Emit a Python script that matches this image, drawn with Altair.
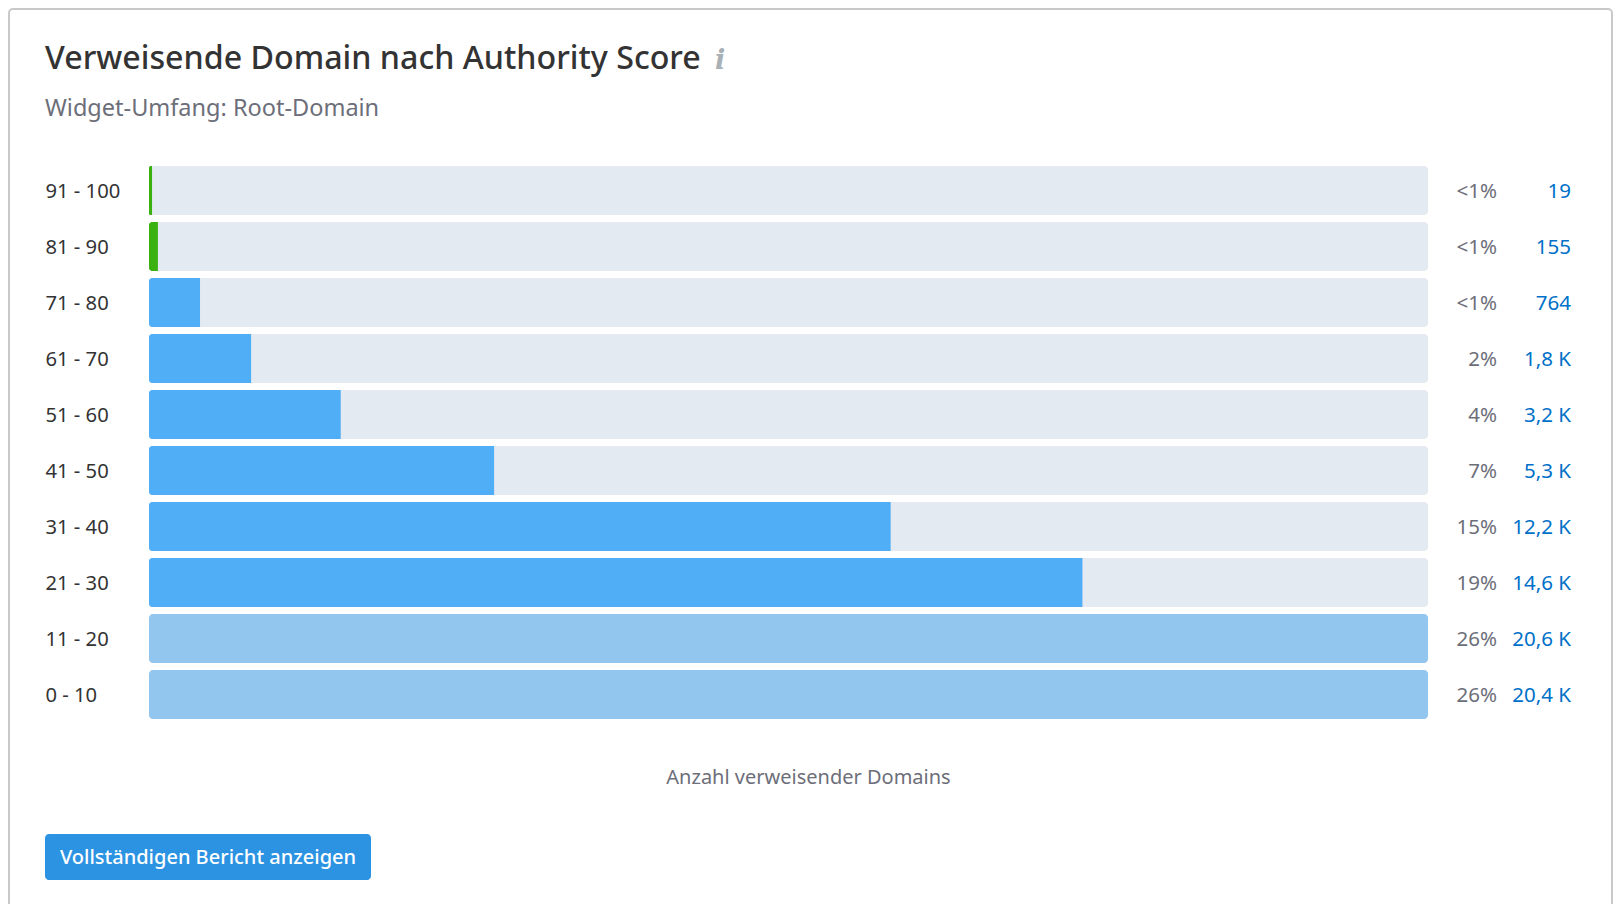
import altair as alt
import pandas as pd

FONT = "Noto Sans"

ranges = ["91 - 100", "81 - 90", "71 - 80", "61 - 70", "51 - 60",
          "41 - 50", "31 - 40", "21 - 30", "11 - 20", "0 - 10"]
bar_percent = [0.25, 0.7, 4, 8, 15, 27, 58, 73, 100, 100]
groups = ["high", "high", "mid", "mid", "mid", "mid", "mid", "mid", "low", "low"]
share_labels = ["<1%", "<1%", "<1%", "2%", "4%", "7%", "15%", "19%", "26%", "26%"]
count_labels = ["19", "155", "764", "1,8 K", "3,2 K", "5,3 K", "12,2 K", "14,6 K", "20,6 K", "20,4 K"]

title_text = "Verweisende Domain nach Authority Score"
subtitle_text = "Widget-Umfang: Root-Domain"
axis_title = "Anzahl verweisender Domains"
button_text = "Vollständigen Bericht anzeigen"

df = pd.DataFrame({
    "range": ranges,
    "pct": bar_percent,
    "group": groups,
    "share": share_labels,
    "count": count_labels,
    "full": [100] * len(ranges),
})

OX, OY = 149, 162.5  # page position of the plot area's origin


def px(v):
    return alt.value(v - OX)


def py(v):
    return alt.value(v - OY)


band = alt.Scale(paddingInner=0.125, paddingOuter=0.0625)
y_enc = alt.Y(
    "range:N",
    sort=ranges,
    scale=band,
    axis=alt.Axis(
        title=None, domain=False, ticks=False, labelAlign="left", labelPadding=104,
        labelFont=FONT, labelFontSize=20.2, labelColor="#333333", labelBaseline="middle",
        labelOffset=1, zindex=1,
    ),
)
x_scale = alt.Scale(domain=[0, 100], nice=False)
x_axis = alt.Axis(
    title=axis_title, domain=False, ticks=False, labels=False, grid=False,
    titleFont=FONT, titleFontSize=20, titleFontWeight="normal", titleColor="#6c6e79",
    titleX=659, titleY=55, titleAnchor="middle", titleBaseline="middle", titleAlign="center",
    zindex=1,
)

track = alt.Chart(df).mark_bar(color="#e4eaf1", cornerRadius=4).encode(
    y=y_enc,
    x=alt.X("full:Q", scale=x_scale, axis=x_axis),
)

color_enc = alt.Color(
    "group:N",
    scale=alt.Scale(domain=["high", "mid", "low"], range=["#3ab011", "#4faef5", "#92c6ef"]),
    legend=None,
)
x_fill = alt.X("pct:Q", scale=x_scale, axis=x_axis)

fill_part = alt.Chart(df).transform_filter("datum.pct < 100").mark_bar(
    cornerRadiusTopLeft=3, cornerRadiusBottomLeft=3
).encode(y=y_enc, x=x_fill, color=color_enc)

fill_full = alt.Chart(df).transform_filter("datum.pct >= 100").mark_bar(
    cornerRadius=4
).encode(y=y_enc, x=x_fill, color=color_enc)

share = alt.Chart(df).mark_text(
    align="right", baseline="middle", dy=1, font=FONT, fontSize=20.5, color="#6c6e79"
).encode(y=y_enc, x=px(1497), text="share:N")

count = alt.Chart(df).mark_text(
    align="right", baseline="middle", dy=1, font=FONT, fontSize=20.5, color="#0070c8"
).encode(y=y_enc, x=px(1571), text="count:N")


def label(text, x, y, **kw):
    return alt.Chart(alt.Data(values=[{"t": text}])).mark_text(**kw).encode(
        x=px(x), y=py(y), text="t:N"
    )


title = label(title_text, 45, 68.5, align="left", baseline="alphabetic", font=FONT,
              fontSize=32.2, fontWeight=500, color="#333333")
info = label("i", 720, 68.5, align="center", baseline="alphabetic", font="DejaVu Serif",
             fontSize=27, fontWeight="bold", fontStyle="italic", color="#a8b0b5")
subtitle = label(subtitle_text, 45, 115.5, align="left", baseline="alphabetic", font=FONT,
                 fontSize=23.5, color="#6c6e79")

button = alt.Chart(alt.Data(values=[{"t": button_text}])).mark_rect(
    color="#2c93e2", cornerRadius=4
).encode(x=px(45), x2=px(371), y=py(834), y2=py(880))
button_label = label(button_text, 208, 858, align="center", baseline="middle", font=FONT,
                     fontSize=20, fontWeight=500, color="#ffffff")

frame = alt.Chart(alt.Data(values=[{"t": "card"}])).mark_rect(
    filled=False, stroke="#c9c9c9", strokeWidth=2, cornerRadius=4
).encode(x=px(9), x2=px(1612), y=py(9), y2=py(940))

chart = (
    alt.layer(frame, track, fill_part, fill_full, share, count, title, info, subtitle, button, button_label)
    .properties(
        width=1279,
        height=560,
        padding={"left": 141, "top": 154.5, "right": 185, "bottom": 181.5},
        autosize=alt.AutoSizeParams(type="none"),
        background="#ffffff",
    )
    .configure_view(stroke=None)
)

chart.save("out.html", embed_options={"renderer": "svg", "actions": False})
